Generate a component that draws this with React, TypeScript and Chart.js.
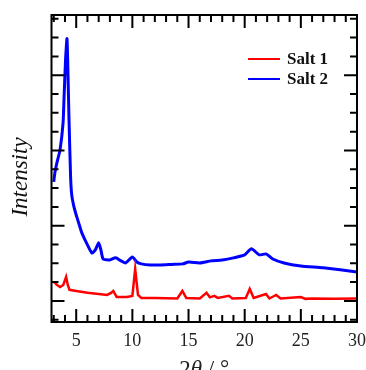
import React, { useEffect, useRef } from "react";
import { Chart, registerables } from "chart.js";

Chart.register(...registerables);

// Salt 1 (red) — 2θ positions and relative intensity
const salt1X = [3.0, 3.3, 3.56, 3.85, 4.1, 4.25, 4.4, 5.0, 6.0, 7.0, 7.75, 8.1, 8.3, 8.6, 9.5, 10.0, 10.25, 10.5, 10.8, 12.0, 14.0, 14.45, 14.8, 16.0, 16.6, 16.9, 17.3, 17.6, 18.6, 18.9, 20.1, 20.45, 20.8, 21.9, 22.2, 22.8, 23.2, 25.0, 25.4, 26.0, 28.0, 30.0];
const salt1Y = [1.01, 0.85, 0.74, 0.85, 1.28, 0.85, 0.59, 0.53, 0.43, 0.37, 0.32, 0.43, 0.53, 0.21, 0.21, 0.27, 1.70, 0.32, 0.16, 0.16, 0.13, 0.53, 0.16, 0.13, 0.43, 0.19, 0.27, 0.16, 0.27, 0.13, 0.16, 0.64, 0.16, 0.37, 0.13, 0.32, 0.13, 0.21, 0.11, 0.13, 0.11, 0.13];

// Salt 2 (blue)
const salt2X = [3.0, 3.1, 3.3, 3.56, 3.83, 3.92, 4.05, 4.18, 4.3, 4.36, 4.5, 4.6, 4.8, 5.0, 5.3, 5.5, 6.0, 6.4, 6.7, 7.0, 7.2, 7.4, 8.0, 8.5, 9.0, 9.4, 10.0, 10.4, 10.8, 11.6, 12.5, 13.5, 14.5, 15.0, 16.0, 17.0, 18.0, 19.0, 20.0, 20.6, 21.3, 21.9, 22.5, 23.5, 25.0, 27.0, 30.0];
const salt2Y = [6.33, 6.81, 7.39, 8.03, 9.47, 10.85, 12.8, 13.94, 11.2, 9.63, 6.6, 5.64, 5.0, 4.57, 4.0, 3.62, 2.98, 2.55, 2.71, 3.09, 2.71, 2.23, 2.18, 2.29, 2.13, 2.02, 2.34, 2.07, 1.97, 1.91, 1.91, 1.94, 1.97, 2.07, 2.02, 2.13, 2.18, 2.29, 2.45, 2.77, 2.45, 2.5, 2.23, 2.02, 1.86, 1.76, 1.54];

const seriesNames = ["Salt 1", "Salt 2"];
const seriesColors = ["#ff0000", "#0000ff"];

const xTickLabels = [5, 10, 15, 20, 25, 30];
const xMin = 2.8;
const xMax = 30;
const yMin = -1.12;
const yMax = 15.2;

const SERIF = "'Liberation Serif', 'Times New Roman', serif";

const framePlugin = {
  id: "framePlugin",
  afterDraw(chart: any) {
    const { ctx, chartArea, scales } = chart;
    const { left, right, top, bottom } = chartArea;
    const x = scales.x;
    const y = scales.y;
    ctx.save();
    ctx.strokeStyle = "#000";
    ctx.lineWidth = 2;
    ctx.strokeRect(left, top, right - left, bottom - top);

    ctx.beginPath();
    for (let v = Math.ceil(xMin); v <= xMax; v++) {
      const px = x.getPixelForValue(v);
      const len = v % 5 === 0 ? 13 : 7;
      ctx.moveTo(px, bottom);
      ctx.lineTo(px, bottom - len);
      ctx.moveTo(px, top);
      ctx.lineTo(px, top + len);
    }
    for (let v = Math.ceil(yMin); v <= yMax; v++) {
      const py = y.getPixelForValue(v);
      const len = v % 4 === 0 ? 13 : 7;
      ctx.moveTo(left, py);
      ctx.lineTo(left + len, py);
      ctx.moveTo(right, py);
      ctx.lineTo(right - len, py);
    }
    ctx.stroke();

    // x tick labels
    ctx.fillStyle = "#222";
    ctx.font = `18px ${SERIF}`;
    ctx.textAlign = "center";
    ctx.textBaseline = "middle";
    xTickLabels.forEach((v) => {
      ctx.fillText(String(v), x.getPixelForValue(v), 341.5);
    });

    // x title: 2θ / °
    const parts = [
      { t: "2", f: `23px ${SERIF}` },
      { t: "θ", f: `italic 23px ${SERIF}` },
      { t: " / °", f: `23px ${SERIF}` },
    ];
    let total = 0;
    parts.forEach((p) => {
      ctx.font = p.f;
      total += ctx.measureText(p.t).width;
    });
    let cx = (left + right) / 2 - total / 2;
    ctx.textAlign = "left";
    ctx.textBaseline = "alphabetic";
    parts.forEach((p) => {
      ctx.font = p.f;
      ctx.fillText(p.t, cx, 376);
      cx += ctx.measureText(p.t).width;
    });

    // y title
    ctx.save();
    ctx.translate(27, 177);
    ctx.rotate(-Math.PI / 2);
    ctx.font = `italic 23px ${SERIF}`;
    ctx.textAlign = "center";
    ctx.textBaseline = "alphabetic";
    ctx.fillStyle = "#111";
    ctx.fillText("Intensity", 0, 0);
    ctx.restore();

    // legend
    chart.data.datasets.forEach((ds: any, i: number) => {
      const ly = 59 + i * 20;
      ctx.strokeStyle = ds.borderColor;
      ctx.lineWidth = 2;
      ctx.beginPath();
      ctx.moveTo(248, ly);
      ctx.lineTo(280, ly);
      ctx.stroke();
      ctx.fillStyle = "#111";
      ctx.font = `bold 17px ${SERIF}`;
      ctx.textAlign = "left";
      ctx.textBaseline = "middle";
      ctx.fillText(ds.label, 287, ly + 1);
    });
    ctx.restore();
  },
};

export default function App() {
  const canvasRef = useRef<HTMLCanvasElement | null>(null);

  useEffect(() => {
    if (!canvasRef.current) return;
    const toPts = (xs: number[], ys: number[]) => xs.map((v, i) => ({ x: v, y: ys[i] }));
    const chart = new Chart(canvasRef.current, {
      type: "line",
      data: {
        datasets: [
          {
            label: seriesNames[0],
            data: toPts(salt1X, salt1Y),
            borderColor: seriesColors[0],
            borderWidth: 2.5,
            pointRadius: 0,
            tension: 0,
          },
          {
            label: seriesNames[1],
            data: toPts(salt2X, salt2Y),
            borderColor: seriesColors[1],
            borderWidth: 3,
            pointRadius: 0,
            tension: 0.2,
          },
        ],
      },
      options: {
        animation: false,
        responsive: false,
        maintainAspectRatio: false,
        layout: { padding: { left: 51.5, right: 9, top: 15, bottom: 48 } },
        plugins: { legend: { display: false }, tooltip: { enabled: false } },
        scales: {
          x: { type: "linear", min: xMin, max: xMax, display: false },
          y: { type: "linear", min: yMin, max: yMax, display: false },
        },
      },
      plugins: [framePlugin],
    });
    return () => chart.destroy();
  }, []);

  return (
    <div style={{ position: "fixed", left: 0, top: 0, width: 366, height: 370, background: "#fff" }}>
      <canvas ref={canvasRef} width={366} height={370} style={{ width: 366, height: 370 }} />
    </div>
  );
}
